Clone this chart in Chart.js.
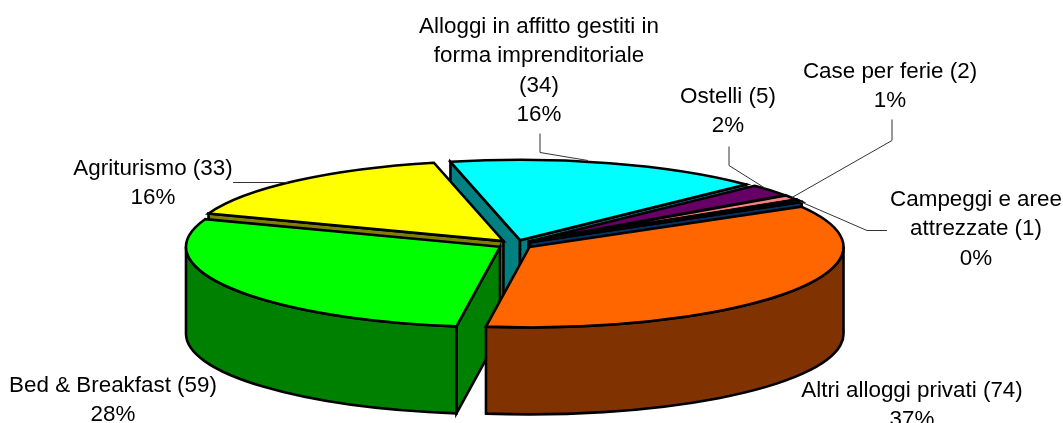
<!DOCTYPE html>
<html>
<head>
<meta charset="utf-8">
<style>
    html, body { margin: 0; padding: 0; background: #fff; }
    canvas { display: block; }
</style>
<script src="https://cdn.jsdelivr.net/npm/chart.js@4"></script>
</head>
<body>
<canvas id="torta" width="1063" height="423"></canvas>
<script>
const categories = ["Alloggi in affitto gestiti in forma imprenditoriale", "Ostelli", "Case per ferie", "Campeggi e aree attrezzate", "Altri alloggi privati", "Bed & Breakfast", "Agriturismo"];
const values = [34, 5, 2, 1, 74, 59, 33];
const percents = ["16%", "2%", "1%", "0%", "37%", "28%", "16%"];

const topColors = ["#00FFFF", "#660066", "#FF8080", "#0066CC", "#FF6600", "#00FF00", "#FFFF00"];
const sideColors = ["#008080", "#330033", "#804040", "#003366", "#803300", "#008000", "#808000"];

// testo delle etichette, con gli a capo del grafico originale
const labelLines = [
    ["Alloggi in affitto gestiti in", "forma imprenditoriale", "(34)", "16%"],
    ["Ostelli (5)", "2%"],
    ["Case per ferie (2)", "1%"],
    ["Campeggi e aree", "attrezzate (1)", "0%"],
    ["Altri alloggi privati (74)", "37%"],
    ["Bed & Breakfast (59)", "28%"],
    ["Agriturismo (33)", "16%"],
];
const labelPos = [
    { x: 539, y: 27 },
    { x: 728, y: 97 },
    { x: 890, y: 72 },
    { x: 976, y: 200 },
    { x: 912, y: 391 },
    { x: 113, y: 386 },
    { x: 153, y: 169 },
];
const leaderLines = [
    [[540, 133], [540, 152], [588, 160]],
    [[729, 146], [729, 165], [764, 187]],
    [[892, 119], [892, 140], [792, 197]],
    [[887, 230], [867, 230], [800, 201]],
    [[233, 182], [288, 182]],
];

const FLAT = 0.256; // schiacciamento della torta
const DEPTH = 87;
const LINE_H = 29.3;

function pieGeometry(arc) {
    const shift = arc.options.offset / 4;
    const mid = (arc.startAngle + arc.endAngle) / 2;
    return {
        cx: arc.x + Math.cos(mid) * shift,
        cy: arc.y + Math.sin(mid) * shift * FLAT,
        rx: arc.outerRadius,
        ry: arc.outerRadius * FLAT,
        start: arc.startAngle,
        end: arc.endAngle,
        mid: mid,
    };
}

function paint(ctx, color) {
    ctx.fillStyle = color;
    ctx.fill();
    ctx.stroke();
}

function drawFace(ctx, g, angle, color) {
    const px = g.cx + Math.cos(angle) * g.rx;
    const py = g.cy + Math.sin(angle) * g.ry;
    ctx.beginPath();
    ctx.moveTo(g.cx, g.cy);
    ctx.lineTo(px, py);
    ctx.lineTo(px, py + DEPTH);
    ctx.lineTo(g.cx, g.cy + DEPTH);
    ctx.closePath();
    paint(ctx, color);
}

// parete esterna: solo la parte rivolta verso chi guarda
function drawWall(ctx, g, color) {
    for (let k = -1; k <= 1; k++) {
        const lo = Math.max(g.start, k * 2 * Math.PI);
        const hi = Math.min(g.end, Math.PI + k * 2 * Math.PI);
        if (hi <= lo) continue;
        ctx.beginPath();
        ctx.ellipse(g.cx, g.cy, g.rx, g.ry, 0, lo, hi);
        ctx.ellipse(g.cx, g.cy + DEPTH, g.rx, g.ry, 0, hi, lo, true);
        ctx.closePath();
        paint(ctx, color);
    }
}

function drawTop(ctx, g, color) {
    ctx.beginPath();
    ctx.moveTo(g.cx, g.cy);
    ctx.ellipse(g.cx, g.cy, g.rx, g.ry, 0, g.start, g.end);
    ctx.closePath();
    paint(ctx, color);
}

const pie3d = {
    id: "pie3d",
    beforeDatasetsDraw(chart) {
        const ctx = chart.ctx;
        const arcs = chart.getDatasetMeta(0).data;
        const order = arcs.map((arc, i) => ({ i: i, g: pieGeometry(arc) }));
        order.sort((a, b) => Math.sin(a.g.mid) - Math.sin(b.g.mid));

        ctx.save();
        ctx.strokeStyle = "#000";
        ctx.lineWidth = 2.6;
        order.forEach(({ i, g }) => {
            // le facce interne si vedono solo se rivolte verso il basso
            if (Math.cos(g.start) < 0) drawFace(ctx, g, g.start, sideColors[i]);
            if (Math.cos(g.end) > 0) drawFace(ctx, g, g.end, sideColors[i]);
            drawWall(ctx, g, sideColors[i]);
            drawTop(ctx, g, topColors[i]);
        });
        ctx.restore();
        return false; // le fette sono gia disegnate
    },
    afterDraw(chart) {
        const ctx = chart.ctx;
        ctx.save();
        ctx.strokeStyle = "#333";
        ctx.lineWidth = 1;
        leaderLines.forEach((pts) => {
            ctx.beginPath();
            pts.forEach((p, n) => (n ? ctx.lineTo(p[0], p[1] + 0.5) : ctx.moveTo(p[0], p[1] + 0.5)));
            ctx.stroke();
        });
        ctx.fillStyle = "#000";
        ctx.font = '22.4px "Liberation Sans"';
        ctx.textAlign = "center";
        ctx.textBaseline = "middle";
        labelLines.forEach((lines, i) => {
            lines.forEach((text, n) => ctx.fillText(text, labelPos[i].x, labelPos[i].y + n * LINE_H));
        });
        ctx.restore();
    },
};

const chart = new Chart(document.getElementById("torta"), {
    type: "pie",
    data: {
        labels: categories,
        datasets: [{
            data: values,
            backgroundColor: topColors,
            offset: 70,
            clip: false,
        }],
    },
    options: {
        responsive: false,
        animation: false,
        rotation: -12.8,
        radius: 314,
        layout: { padding: { top: 66, right: 33 } },
        plugins: { legend: { display: false }, tooltip: { enabled: false } },
    },
    plugins: [pie3d],
});
</script>
</body>
</html>
